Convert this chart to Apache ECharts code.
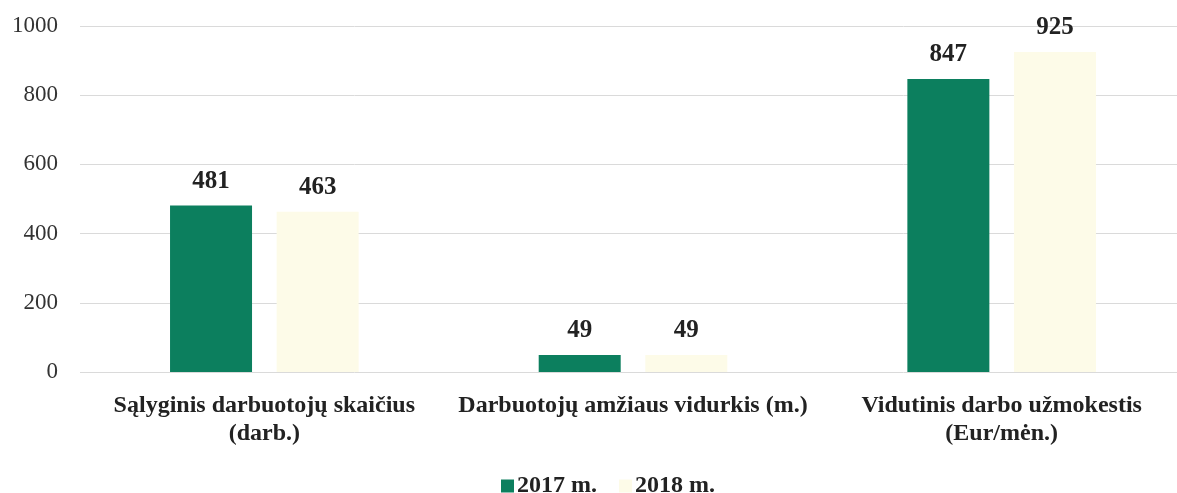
<!DOCTYPE html>
<html>
<head>
<meta charset="utf-8">
<script src="https://cdn.jsdelivr.net/npm/echarts@6/dist/echarts.min.js"></script>
<style>
  html, body { margin: 0; padding: 0; background: #fff; }
  #main { width: 1177px; height: 493px; }
</style>
</head>
<body>
<div id="main"></div>
<script>
// 数据
var categories = [
  'Sąlyginis darbuotojų skaičius\n(darb.)',
  'Darbuotojų amžiaus vidurkis (m.)',
  'Vidutinis darbo užmokestis\n(Eur/mėn.)'
];
var seriesNames = ['2017 m.', '2018 m.'];
var values2017 = [481, 49, 847];
var values2018 = [463, 49, 925];
var yTicks = [0, 200, 400, 600, 800, 1000];

var serif = '"Liberation Serif", "DejaVu Serif", serif';

var myChart = echarts.init(document.getElementById('main'));

function labelStyle() {
  return {
    show: true,
    position: 'top',
    distance: 12,
    fontFamily: serif,
    fontWeight: 'bold',
    fontSize: 25,
    color: '#222'
  };
}

var option = {
  animation: false,
  backgroundColor: '#fff',
  grid: { left: 80, right: -9, top: 26, bottom: 121, outerBoundsMode: 'none', containLabel: false },
  legend: {
    top: 469,
    left: 496,
    itemWidth: 13,
    itemHeight: 13,
    itemGap: 22,
    icon: 'rect',
    textStyle: { fontFamily: serif, fontWeight: 'bold', fontSize: 24, color: '#222', padding: [0, 0, 0, -2] },
    data: seriesNames
  },
  xAxis: {
    type: 'category',
    data: categories,
    axisLine: { show: false },
    axisTick: { show: false },
    axisLabel: {
      fontFamily: serif,
      fontWeight: 'bold',
      fontSize: 24,
      color: '#222',
      margin: 20,
      lineHeight: 28,
      interval: 0
    }
  },
  yAxis: {
    type: 'value',
    min: yTicks[0],
    max: yTicks[yTicks.length - 1],
    interval: 200,
    axisLine: { show: false },
    axisTick: { show: false },
    axisLabel: {
      fontFamily: serif,
      fontSize: 23,
      color: '#333',
      margin: 22,
      formatter: function (v) { return String(v); }
    },
    splitLine: { lineStyle: { color: '#dadada', width: 1 } }
  },
  series: [
    {
      name: seriesNames[0],
      type: 'bar',
      data: values2017,
      barWidth: 82,
      barGap: '30%',
      itemStyle: { color: '#0c7f5e' },
      label: labelStyle()
    },
    {
      name: seriesNames[1],
      type: 'bar',
      data: values2018,
      barWidth: 82,
      itemStyle: { color: '#fdfbe8' },
      label: labelStyle()
    }
  ]
};

myChart.setOption(option);
</script>
</body>
</html>
